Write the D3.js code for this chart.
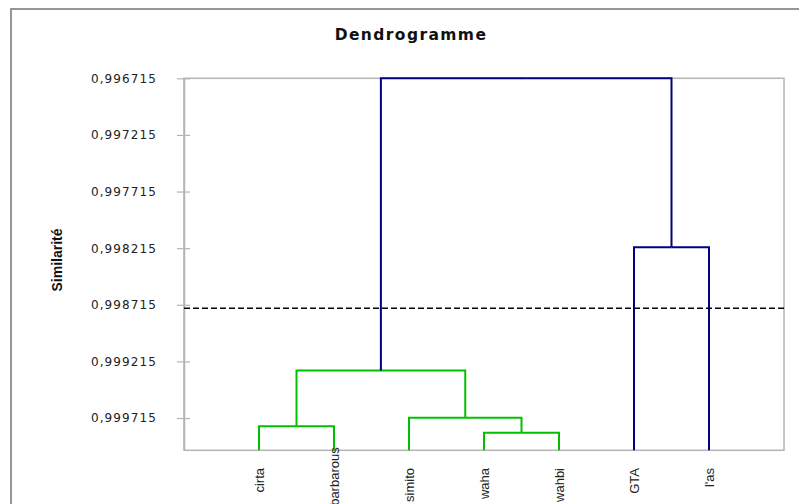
<!DOCTYPE html>
<html>
<head>
<meta charset="utf-8">
<script src="https://cdnjs.cloudflare.com/ajax/libs/d3/7.8.5/d3.min.js"></script>
<style>
  html, body { margin: 0; padding: 0; background: #fff; }
  svg { display: block; }
</style>
</head>
<body>
<svg id="chart" width="799" height="504"></svg>
<script>
// Leaves in display order
const leaves = ["cirta", "barbarous", "simito", "waha", "wahbi", "GTA", "l'as"];

// Agglomeration steps: each joins mergeA[i] with mergeB[i] at mergeLevel[i] (similarity)
const mergeNames = ["n1", "n2", "n3", "n4", "n5", "n6"];
const mergeA = ["cirta", "waha", "simito", "n1", "GTA", "n4"];
const mergeB = ["barbarous", "wahbi", "n2", "n3", "l'as", "n5"];
const mergeLevel = [0.999787, 0.999845, 0.999713, 0.999295, 0.998208, 0.996715];

// Truncation level (dashed line)
const truncation = 0.998745;

// Axis tick values
const tickValues = [0.996715, 0.997215, 0.997715, 0.998215, 0.998715, 0.999215, 0.999715];

const svg = d3.select("#chart");
const plot = { left: 184, right: 784, top: 78.3, bottom: 450.3 };

const x = d3.scalePoint().domain(leaves).range([plot.left, plot.right]).padding(1);
const y = d3.scaleLinear().domain([0.996715, 1.0]).range([plot.top, plot.bottom]);

const green = "#00c000", navy = "#000080", gridGray = "#b4b4b4";

// Outer chart frame
svg.append("rect")
  .attr("x", 11).attr("y", 9).attr("width", 820).attr("height", 520)
  .attr("fill", "none").attr("stroke", "#8c8c8c").attr("stroke-width", 1.8);

// Title
svg.append("text")
  .attr("x", 411).attr("y", 40)
  .attr("text-anchor", "middle")
  .attr("font-family", "DejaVu Sans, sans-serif")
  .attr("font-weight", "bold").attr("font-size", 15.5)
  .attr("letter-spacing", 1.4)
  .attr("fill", "#111")
  .text("Dendrogramme");

// Plot box
svg.append("rect")
  .attr("x", plot.left).attr("y", plot.top)
  .attr("width", plot.right - plot.left).attr("height", plot.bottom - plot.top)
  .attr("fill", "none").attr("stroke", gridGray).attr("stroke-width", 1.5);

// Y axis
const yAxis = d3.axisLeft(y)
  .tickValues(tickValues)
  .tickSizeInner(7).tickSizeOuter(0)
  .tickPadding(20)
  .tickFormat(d => d3.format(".6f")(d).replace(".", ","));

const gy = svg.append("g").attr("transform", `translate(${plot.left},0)`).call(yAxis);
gy.select(".domain").attr("stroke", gridGray).attr("stroke-width", 1.5);
gy.selectAll(".tick line").attr("stroke", gridGray).attr("stroke-width", 1.2)
  .attr("x1", 6).attr("x2", -7);
gy.selectAll(".tick text")
  .attr("font-family", "DejaVu Sans, sans-serif")
  .attr("font-size", 12)
  .attr("letter-spacing", 1.1)
  .attr("fill", "#222");

// Y axis title
svg.append("text")
  .attr("transform", "translate(62,260) rotate(-90)")
  .attr("text-anchor", "middle")
  .attr("font-family", "Liberation Sans Narrow, Liberation Sans, sans-serif")
  .attr("font-weight", "bold").attr("font-size", 14)
  .attr("fill", "#111")
  .text("Similarité");

// Build node positions from the merge table
const pos = {};
leaves.forEach(l => { pos[l] = { x: x(l), level: 1.0 }; });
mergeNames.forEach((name, i) => {
  const a = pos[mergeA[i]], b = pos[mergeB[i]];
  pos[name] = { x: (a.x + b.x) / 2, level: mergeLevel[i] };
});

// Joins above the truncation similarity form a class (green); the rest is drawn in navy
const links = svg.append("g").attr("fill", "none").attr("stroke-width", 2);
mergeNames.forEach((name, i) => {
  const p = pos[name];
  const color = p.level > truncation ? green : navy;
  [mergeA[i], mergeB[i]].forEach(c => {
    const ch = pos[c];
    links.append("path")
      .attr("d", `M${ch.x},${y(ch.level)}V${y(p.level)}H${p.x}`)
      .attr("stroke", color);
  });
});

// Truncation line
svg.append("line")
  .attr("x1", plot.left).attr("x2", plot.right)
  .attr("y1", y(truncation)).attr("y2", y(truncation))
  .attr("stroke", "#000").attr("stroke-width", 1.6)
  .attr("stroke-dasharray", "6,3");

// Leaf labels, rotated, hanging below the axis; long ones are lifted up to the axis
const labelTop = 468, labelRoom = 504 - labelTop;
const labels = svg.append("g")
  .attr("font-family", "Liberation Sans Narrow, Liberation Sans, sans-serif")
  .attr("font-size", 13)
  .attr("fill", "#222");
leaves.forEach(l => {
  const t = labels.append("text")
    .attr("text-anchor", "end")
    .attr("dominant-baseline", "central")
    .text(l);
  const len = t.node().getComputedTextLength();
  const top = len > labelRoom + 8 ? plot.bottom - 3 : labelTop;
  t.attr("transform", `translate(${x(l)},${top}) rotate(-90)`);
});
</script>
</body>
</html>
